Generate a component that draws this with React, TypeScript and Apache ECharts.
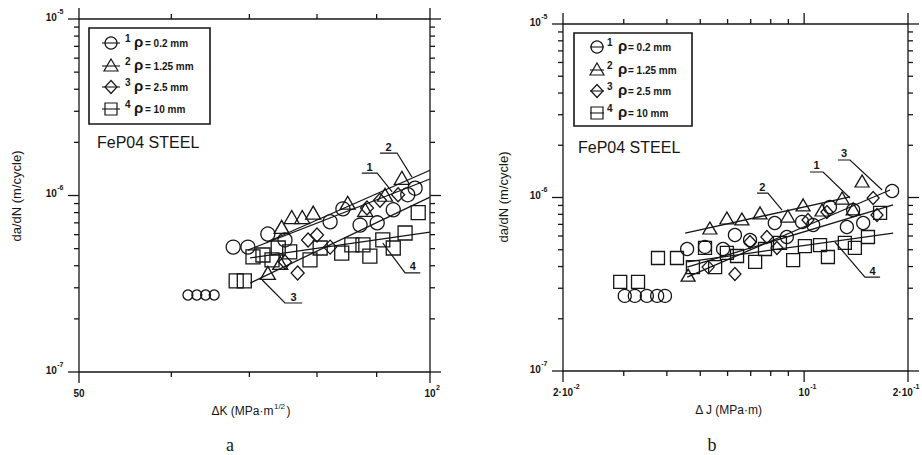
import React, { useEffect, useRef } from 'react';
import * as echarts from 'echarts';

// ---------- shared text ----------
const legendNums = ['1', '2', '3', '4'];
const legendTexts = ['= 0.2 mm', '= 1.25 mm', '= 2.5 mm', '= 10 mm'];
const legendSymbols = ['circle', 'triangle', 'diamond', 'rect'];
const materialText = 'FeP04 STEEL';
const yTitle = 'da/dN (m/cycle)';

// ---------- panel a (ΔK) ----------
const aCircles = [[67.8, 5.1e-7], [69.8, 5.1e-7], [72.6, 6.05e-7], [75.1, 5.6e-7], [82.1, 7.1e-7], [84.2, 8.4e-7], [87.1, 6.8e-7], [90.1, 7.0e-7], [93.0, 8.3e-7], [95.7, 1.01e-6], [97.1, 1.1e-6]];
const aCirclesSmall = [[62.0, 2.73e-7], [63.1, 2.73e-7], [64.2, 2.73e-7], [65.3, 2.73e-7]];
const aTriangles = [[72.6, 3.64e-7], [74.4, 4.15e-7], [74.6, 6.64e-7], [76.1, 7.55e-7], [77.7, 7.55e-7], [79.4, 8.0e-7], [85.0, 9.1e-7], [88.0, 8.3e-7], [91.5, 1.01e-6], [94.6, 1.26e-6]];
const aDiamonds = [[75.1, 4.2e-7], [77.0, 3.64e-7], [78.6, 5.6e-7], [80.0, 5.97e-7], [82.1, 5.1e-7], [88.3, 8.5e-7], [90.6, 9.4e-7], [93.9, 1.01e-6]];
const aSquares = [[68.2, 3.28e-7], [69.3, 3.28e-7], [70.5, 4.49e-7], [71.9, 4.6e-7], [73.2, 4.32e-7], [74.1, 5.04e-7], [75.8, 4.79e-7], [78.9, 4.32e-7], [80.5, 5.04e-7], [84.0, 4.72e-7], [85.7, 5.25e-7], [87.6, 5.25e-7], [88.8, 4.54e-7], [91.1, 5.6e-7], [93.0, 5.04e-7], [95.2, 6.13e-7], [97.7, 8.0e-7]];
const aFit1 = [[69.8, 4.91e-7], [100, 1.24e-6]];
const aFit2 = [[72.5, 5.45e-7], [100, 1.39e-6]];
const aFit3 = [[70.1, 3.19e-7], [100, 9.8e-7]];
const aFit4 = [[70.1, 4.43e-7], [100, 6.21e-7]];
const aLeaderLabels = ['2', '1', '3', '4'];
const aLeaderPoints = [
  [[90.6, 1.74e-6], [93.7, 1.74e-6], [96.5, 1.27e-6]],
  [[87.4, 1.34e-6], [90.1, 1.34e-6], [92.8, 1.05e-6]],
  [[71.8, 3.32e-7], [75.1, 2.46e-7], [77.7, 2.46e-7]],
  [[91.1, 5.38e-7], [95.2, 3.64e-7], [98.1, 3.64e-7]],
];
const aXMin = 50, aXMax = 100;
const aXMajorTicks = [50, 100];
const aXMinorTicks = [60, 70, 80, 90];
const aXLabels = [{ v: 50, base: '50', sup: '' }, { v: 100, base: '10', sup: '2' }];
const aXTitle = ['ΔK (MPa·m', '1/2', ')'];

// ---------- panel b (ΔJ) ----------
const bCircles = [[0.0302, 2.71e-7], [0.0323, 2.71e-7], [0.035, 2.71e-7], [0.0375, 2.71e-7], [0.0395, 2.71e-7], [0.0458, 5.05e-7], [0.0516, 5.19e-7], [0.0582, 5.05e-7], [0.063, 6.08e-7], [0.0697, 5.69e-7], [0.0822, 7.13e-7], [0.0891, 5.92e-7], [0.0986, 7.23e-7], [0.1062, 6.94e-7], [0.1188, 8.81e-7], [0.133, 6.76e-7], [0.1387, 8.47e-7], [0.1483, 7.13e-7], [0.1799, 1.09e-6]];
const bTriangles = [[0.0461, 3.57e-7], [0.0533, 6.67e-7], [0.0597, 7.62e-7], [0.066, 7.52e-7], [0.0745, 8.15e-7], [0.0897, 7.82e-7], [0.0993, 9.06e-7], [0.1127, 8.47e-7], [0.1288, 9.93e-7], [0.1387, 8.59e-7], [0.1472, 1.245e-6]];
const bDiamonds = [[0.0527, 3.97e-7], [0.063, 3.62e-7], [0.0697, 5.54e-7], [0.078, 5.92e-7], [0.0834, 5.12e-7], [0.1026, 7.42e-7], [0.1164, 8.24e-7], [0.1585, 9.93e-7], [0.1626, 7.93e-7]];
const bSquares = [[0.0293, 3.26e-7], [0.033, 3.26e-7], [0.0377, 4.48e-7], [0.0428, 4.48e-7], [0.0476, 3.97e-7], [0.0516, 5.12e-7], [0.0552, 3.97e-7], [0.0597, 4.79e-7], [0.0639, 4.6e-7], [0.0721, 4.25e-7], [0.077, 5.05e-7], [0.0851, 5.47e-7], [0.0929, 4.36e-7], [0.1005, 5.25e-7], [0.1112, 5.32e-7], [0.1172, 4.54e-7], [0.1312, 5.47e-7], [0.1403, 5.12e-7], [0.1531, 5.92e-7], [0.166, 8.15e-7]];
const bFit1 = [[0.0458, 3.97e-7], [0.1811, 9.06e-7]];
const bFit2 = [[0.0452, 6.24e-7], [0.1358, 1.007e-6]];
const bFit3 = [[0.0458, 3.48e-7], [0.1774, 1.105e-6]];
const bFit4 = [[0.0458, 4.25e-7], [0.1811, 6.24e-7]];
const bLeaderLabels = ['2', '1', '3', '4'];
const bLeaderPoints = [
  [[0.073, 1.061e-6], [0.0785, 1.061e-6], [0.0863, 8.47e-7]],
  [[0.104, 1.403e-6], [0.1135, 1.403e-6], [0.1358, 9.93e-7]],
  [[0.1253, 1.645e-6], [0.1358, 1.645e-6], [0.1683, 1.105e-6]],
  [[0.1228, 5.54e-7], [0.15, 3.48e-7], [0.166, 3.48e-7]],
];
const bXMin = 0.02, bXMax = 0.2;
const bXMajorTicks = [0.02, 0.1, 0.2];
const bXMinorTicks = [0.03, 0.04, 0.05, 0.06, 0.07, 0.08, 0.09];
const bXLabels = [{ v: 0.02, base: '2·10', sup: '-2' }, { v: 0.1, base: '10', sup: '-1' }, { v: 0.2, base: '2·10', sup: '-1' }];
const bXTitle = ['Δ J (MPa·m)', '', ''];

// ---------- shared y ----------
const yMin = 1e-7, yMax = 1e-5;
const yMajorTicks = [1e-7, 1e-6, 1e-5];
const yMinorTicks = [2e-7, 3e-7, 4e-7, 5e-7, 6e-7, 7e-7, 8e-7, 9e-7, 2e-6, 3e-6, 4e-6, 5e-6, 6e-6, 7e-6, 8e-6, 9e-6];
const yLabels = [{ v: 1e-5, base: '10', sup: '-5' }, { v: 1e-6, base: '10', sup: '-6' }, { v: 1e-7, base: '10', sup: '-7' }];

// ---------- styling ----------
const INK = '#161616';
const SANS = '"Liberation Sans", Arial, sans-serif';
const TICK_FONT = `bold 10px ${SANS}`;
const SUP_FONT = `bold 7px ${SANS}`;
const PAGE_W = 922;

let ctx: CanvasRenderingContext2D | null = null;
function tw(text: string, font: string) {
  if (!ctx) ctx = document.createElement('canvas').getContext('2d');
  if (!ctx) return text.length * 6;
  ctx.font = font;
  return ctx.measureText(text).width;
}

function scatter(data: number[][], symbol: string, size: any, gi: number) {
  return {
    type: 'scatter', data, symbol, symbolSize: size, xAxisIndex: gi, yAxisIndex: gi, silent: true, z: 3,
    itemStyle: { color: 'rgba(0,0,0,0)', borderColor: INK, borderWidth: 1.3, opacity: 1 },
  };
}
function fit(data: number[][], gi: number) {
  return {
    type: 'line', data, xAxisIndex: gi, yAxisIndex: gi, symbol: 'none', silent: true, z: 4,
    lineStyle: { color: INK, width: 1.3 },
  };
}

function tickSeries(gi: number, xMin: number, xMajor: number[], xMinor: number[]) {
  const ticks: { v: number[]; dir: string; len: number }[] = [];
  xMajor.forEach((v) => ticks.push({ v: [v, yMin], dir: 'x', len: 11 }));
  xMinor.forEach((v) => ticks.push({ v: [v, yMin], dir: 'x', len: 5 }));
  yMajorTicks.forEach((v) => ticks.push({ v: [xMin, v], dir: 'y', len: 11 }));
  yMinorTicks.forEach((v) => ticks.push({ v: [xMin, v], dir: 'y', len: 5 }));
  return {
    type: 'custom', xAxisIndex: gi, yAxisIndex: gi, clip: false, silent: true, z: 5,
    data: ticks.map((t) => t.v),
    renderItem: (params: any, api: any) => {
      const t = ticks[params.dataIndex];
      const cs = params.coordSys;
      const p = api.coord([api.value(0), api.value(1)]);
      const st = { stroke: INK, lineWidth: 1.3 };
      if (t.dir === 'x') {
        const x = p[0];
        return {
          type: 'group', children: [
            { type: 'line', shape: { x1: x, y1: cs.y + cs.height, x2: x, y2: cs.y + cs.height + t.len }, style: st },
            { type: 'line', shape: { x1: x, y1: cs.y, x2: x, y2: cs.y - t.len }, style: st },
          ],
        };
      }
      const y = p[1];
      return {
        type: 'group', children: [
          { type: 'line', shape: { x1: cs.x, y1: y, x2: cs.x - t.len, y2: y }, style: st },
          { type: 'line', shape: { x1: cs.x + cs.width, y1: y, x2: cs.x + cs.width + t.len, y2: y }, style: st },
        ],
      };
    },
  };
}

function labelSeries(gi: number, xMin: number, xLabels: { v: number; base: string; sup: string }[]) {
  const items: { v: number[]; dir: string; base: string; sup: string }[] = [];
  xLabels.forEach((l) => items.push({ v: [l.v, yMin], dir: 'x', base: l.base, sup: l.sup }));
  yLabels.forEach((l) => items.push({ v: [xMin, l.v], dir: 'y', base: l.base, sup: l.sup }));
  return {
    type: 'custom', xAxisIndex: gi, yAxisIndex: gi, clip: false, silent: true, z: 5,
    data: items.map((t) => t.v),
    renderItem: (params: any, api: any) => {
      const l = items[params.dataIndex];
      const cs = params.coordSys;
      const p = api.coord([api.value(0), api.value(1)]);
      const bw = tw(l.base, TICK_FONT);
      const sw = l.sup ? tw(l.sup, SUP_FONT) : 0;
      let bx: number, by: number;
      if (l.dir === 'x') {
        bx = p[0] - bw / 2;
        by = cs.y + cs.height + 21;
        if (bx + bw + sw + 2 > PAGE_W - 1) bx = PAGE_W - 3 - bw - sw;
      } else {
        bx = cs.x - 16 - sw - bw;
        by = p[1] - 2;
      }
      const children: any[] = [
        { type: 'text', x: bx, y: by, style: { text: l.base, font: TICK_FONT, fill: INK, textAlign: 'left', textVerticalAlign: 'middle' } },
      ];
      if (l.sup) {
        children.push({ type: 'text', x: bx + bw + 0.5, y: by - 6, style: { text: l.sup, font: SUP_FONT, fill: INK, textAlign: 'left', textVerticalAlign: 'middle' } });
      }
      return { type: 'group', children };
    },
  };
}

function leaderSeries(gi: number, labels: string[], pts: number[][][]) {
  return {
    type: 'custom', xAxisIndex: gi, yAxisIndex: gi, clip: false, silent: true, z: 6,
    data: pts.map((p) => p[0]),
    renderItem: (params: any, api: any) => {
      const P = pts[params.dataIndex].map((p) => api.coord(p));
      let mx = (P[0][0] + P[1][0]) / 2, my = P[0][1];
      for (let i = 0; i < P.length - 1; i++) {
        if (Math.abs(P[i][1] - P[i + 1][1]) < 1) { mx = (P[i][0] + P[i + 1][0]) / 2; my = P[i][1]; }
      }
      return {
        type: 'group', children: [
          { type: 'polyline', shape: { points: P }, style: { stroke: INK, lineWidth: 1.2, fill: null } },
          { type: 'text', x: mx, y: my - 1, style: { text: labels[params.dataIndex], font: `bold 11px ${SANS}`, fill: INK, textAlign: 'center', textVerticalAlign: 'bottom' } },
        ],
      };
    },
  };
}

function legendSymbol(kind: string, cx: number, cy: number, lineHalf: number) {
  const st = { stroke: INK, lineWidth: 1.2, fill: 'none' };
  const els: any[] = [{ type: 'line', shape: { x1: cx - lineHalf, y1: cy, x2: cx + lineHalf, y2: cy }, style: { stroke: INK, lineWidth: 1.1 } }];
  if (kind === 'circle') els.push({ type: 'circle', shape: { cx, cy, r: 6 }, style: st });
  if (kind === 'triangle') els.push({ type: 'polygon', shape: { points: [[cx, cy - 7], [cx + 7, cy + 5], [cx - 7, cy + 5]] }, style: st });
  if (kind === 'diamond') els.push({ type: 'polygon', shape: { points: [[cx, cy - 6.5], [cx + 6, cy], [cx, cy + 6.5], [cx - 6, cy]] }, style: st });
  if (kind === 'rect') els.push({ type: 'rect', shape: { x: cx - 6, y: cy - 6, width: 12, height: 12 }, style: st });
  return els;
}

function legendGraphic(box: number[], rowY: number[], symX: number, numX: number, rhoX: number, textX: number, lineHalf: number) {
  const els: any[] = [{ type: 'rect', shape: { x: box[0], y: box[1], width: box[2], height: box[3] }, style: { stroke: INK, lineWidth: 1.6, fill: 'none' } }];
  rowY.forEach((y, i) => {
    els.push(...legendSymbol(legendSymbols[i], symX, y, lineHalf));
    els.push({ type: 'text', x: numX, y: y - 5, style: { text: legendNums[i], font: `bold 10px ${SANS}`, fill: INK, textAlign: 'left', textVerticalAlign: 'middle' } });
    els.push({ type: 'text', x: rhoX, y: y - 2, style: { text: 'ρ', font: `bold 15px ${SANS}`, fill: INK, textAlign: 'left', textVerticalAlign: 'middle' } });
    els.push({ type: 'text', x: textX, y: y, style: { text: legendTexts[i], font: `bold 10px ${SANS}`, fill: INK, textAlign: 'left', textVerticalAlign: 'middle' } });
  });
  return els;
}

function xTitleGraphic(cx: number, y: number, parts: string[]) {
  const f = `12px ${SANS}`, fs = `8px ${SANS}`;
  const w0 = tw(parts[0], f), w1 = parts[1] ? tw(parts[1], fs) : 0, w2 = parts[2] ? tw(parts[2], f) : 0;
  const x0 = cx - (w0 + w1 + w2) / 2;
  const els: any[] = [{ type: 'text', x: x0, y, style: { text: parts[0], font: f, fill: INK, textAlign: 'left', textVerticalAlign: 'middle' } }];
  if (parts[1]) els.push({ type: 'text', x: x0 + w0 + 0.5, y: y - 5, style: { text: parts[1], font: fs, fill: INK, textAlign: 'left', textVerticalAlign: 'middle' } });
  if (parts[2]) els.push({ type: 'text', x: x0 + w0 + w1 + 2, y, style: { text: parts[2], font: f, fill: INK, textAlign: 'left', textVerticalAlign: 'middle' } });
  return els;
}

function buildOption() {
  const hidden = { axisLine: { show: false }, axisTick: { show: false }, axisLabel: { show: false }, splitLine: { show: false } };
  const graphic: any[] = [
    ...legendGraphic([89, 28, 121, 96], [43, 66, 87, 109], 111, 125, 134, 145, 9),
    ...legendGraphic([574, 33, 118, 93], [47, 70, 91, 113], 597, 607, 618, 628, 7),
    { type: 'text', x: 97, y: 142, style: { text: materialText, font: `16px ${SANS}`, fill: INK, textAlign: 'left', textVerticalAlign: 'middle' } },
    { type: 'text', x: 578, y: 147, style: { text: materialText, font: `16px ${SANS}`, fill: INK, textAlign: 'left', textVerticalAlign: 'middle' } },
    { type: 'text', x: 16, y: 196, rotation: Math.PI / 2, style: { text: yTitle, font: `13px ${SANS}`, fill: INK, textAlign: 'center', textVerticalAlign: 'middle' } },
    { type: 'text', x: 503, y: 197, rotation: Math.PI / 2, style: { text: yTitle, font: `13px ${SANS}`, fill: INK, textAlign: 'center', textVerticalAlign: 'middle' } },
    ...xTitleGraphic(250, 411, aXTitle),
    ...xTitleGraphic(729, 410, bXTitle),
    { type: 'text', x: 230, y: 445, style: { text: 'a', font: `18px "Liberation Serif", "DejaVu Serif", serif`, fill: INK, textAlign: 'center', textVerticalAlign: 'middle' } },
    { type: 'text', x: 712, y: 445, style: { text: 'b', font: `18px "Liberation Serif", "DejaVu Serif", serif`, fill: INK, textAlign: 'center', textVerticalAlign: 'middle' } },
  ];
  return {
    animation: false,
    backgroundColor: '#ffffff',
    grid: [
      { left: 79, top: 19, width: 351, height: 353, show: true, borderColor: INK, borderWidth: 1.3, backgroundColor: 'transparent' },
      { left: 563, top: 24, width: 345, height: 347, show: true, borderColor: INK, borderWidth: 1.3, backgroundColor: 'transparent' },
    ],
    xAxis: [
      { type: 'log', logBase: 10, gridIndex: 0, min: aXMin, max: aXMax, ...hidden },
      { type: 'log', logBase: 10, gridIndex: 1, min: bXMin, max: bXMax, ...hidden },
    ],
    yAxis: [
      { type: 'log', logBase: 10, gridIndex: 0, min: yMin, max: yMax, ...hidden },
      { type: 'log', logBase: 10, gridIndex: 1, min: yMin, max: yMax, ...hidden },
    ],
    graphic,
    series: [
      scatter(aCircles, 'circle', 14, 0),
      scatter(aCirclesSmall, 'circle', 10, 0),
      scatter(aTriangles, 'triangle', [15, 13], 0),
      scatter(aDiamonds, 'diamond', [13, 14], 0),
      scatter(aSquares, 'rect', 14, 0),
      fit(aFit1, 0), fit(aFit2, 0), fit(aFit3, 0), fit(aFit4, 0),
      leaderSeries(0, aLeaderLabels, aLeaderPoints),
      tickSeries(0, aXMin, aXMajorTicks, aXMinorTicks),
      labelSeries(0, aXMin, aXLabels),
      scatter(bCircles, 'circle', 13, 1),
      scatter(bTriangles, 'triangle', [14, 12], 1),
      scatter(bDiamonds, 'diamond', [12, 13], 1),
      scatter(bSquares, 'rect', 13, 1),
      fit(bFit1, 1), fit(bFit2, 1), fit(bFit3, 1), fit(bFit4, 1),
      leaderSeries(1, bLeaderLabels, bLeaderPoints),
      tickSeries(1, bXMin, bXMajorTicks, bXMinorTicks),
      labelSeries(1, bXMin, bXLabels),
    ],
  };
}

export default function App() {
  const ref = useRef<HTMLDivElement>(null);
  useEffect(() => {
    if (!ref.current) return;
    const chart = echarts.init(ref.current, null, { renderer: 'svg' });
    chart.setOption(buildOption() as any);
    return () => chart.dispose();
  }, []);
  return <div ref={ref} style={{ position: 'absolute', left: 0, top: 0, width: 922, height: 455, background: '#fff' }} />;
}
